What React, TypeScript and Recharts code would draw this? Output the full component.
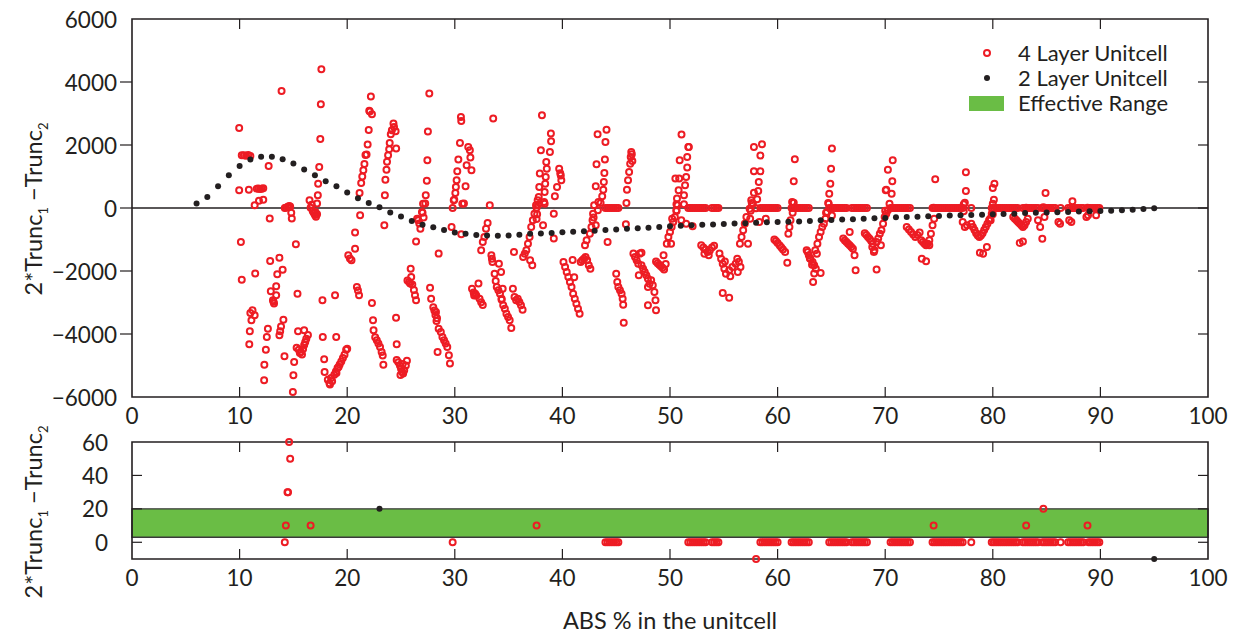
import React from "react";
import { ScatterChart, Scatter, XAxis, YAxis, ReferenceLine, ReferenceArea, Legend } from "recharts";

const INK = "#231f20";
const RED = "#ed1c24";
const GREEN = "#6abd45";
const FONT = "Lato, 'Open Sans', sans-serif";

// x = ABS % in the unitcell, y = 2*Trunc1 - Trunc2
const twoLayerAbs = [
  6, 7, 8, 9, 10, 11, 12, 13, 14, 15, 16, 17, 18, 19, 20, 21, 22, 23, 24, 25,
  26, 27, 28, 29, 30, 31, 32, 33, 34, 35, 36, 37, 38, 39, 40, 41, 42, 43, 44, 45,
  46, 47, 48, 49, 50, 51, 52, 53, 54, 55, 56, 57, 58, 59, 60, 61, 62, 63, 64, 65,
  66, 67, 68, 69, 70, 71, 72, 73, 74, 75, 76, 77, 78, 79, 80, 81, 82, 83, 84, 85,
  86, 87, 88, 89, 90, 91, 92, 93, 94, 95,
];
const twoLayerDiff = [
  140, 350, 690, 1040, 1330, 1540, 1630, 1630, 1550, 1410, 1220, 1040, 850, 690, 490, 310, 160, 20, -140, -270,
  -410, -530, -610, -700, -780, -820, -860, -870, -880, -870, -850, -820, -810, -790, -770, -750, -740, -720, -700, -680,
  -655, -645, -625, -600, -580, -560, -550, -530, -520, -505, -495, -485, -465, -455, -445, -435, -425, -412, -391, -380,
  -369, -359, -338, -327, -316, -295, -285, -274, -264, -253, -242, -232, -225, -211, -200, -189, -179, -158, -147, -140,
  -137, -126, -115, -105, -94, -84, -73, -55, -35, -10,
];

// 4 layer unitcell, points away from zero
const fourLayerSpread: [number, number][] = [
  [9.96, 2540], [10.2, 1673], [10.4, 1673], [10.6, 1660], [10.8, 1680], [11.0, 1650], [9.96, 561], [10.86, 582],
  [11.6, 615], [11.75, 620], [11.9, 600], [12.05, 615], [12.2, 625], [11.4, 90], [12.2, 265], [12.7, 1334],
  [12.8, -337], [13.9, 3715], [10.12, -1080], [10.2, -2275], [11.45, -2083], [11.8, 230],
  [11.0, -3332], [11.2, -3249], [11.4, -3408], [11.1, -3566], [10.95, -3915], [10.9, -4328],
  [12.84, -1683], [13.7, -1576], [13.5, -2105], [14.0, -1957], [13.4, -2487], [12.9, -2645], [13.1, -2930],
  [13.15, -2980], [13.2, -3030], [13.4, -2772], [14.07, -3545], [13.85, -3760], [13.77, -3915], [13.7, -4042],
  [12.63, -3830], [12.53, -4095], [12.44, -4497], [12.3, -4973], [12.28, -5471], [14.17, -4709], [15.07, -4889],
  [15.0, -5313], [14.95, -5842], [15.23, -1153], [15.38, -2719], [15.43, -3915], [16.0, -3883],
  [15.3, -4440], [15.5, -4500], [15.7, -4560], [15.9, -4480], [16.0, -4350], [16.1, -4250], [16.2, -4150],
  [16.35, -4030], [15.6, -4600], [15.8, -4650], [14.85, -337], [14.8, -150],
  [16.5, 244], [16.7, 100], [16.8, -100], [16.9, -160], [17.0, -220], [17.1, -280], [17.2, -200], [17.05, -130],
  [17.6, 4404], [17.55, 3292], [17.5, 2191], [17.4, 1302], [17.3, 773], [17.27, 403], [17.2, 140],
  [17.7, -2930], [18.87, -2772], [17.73, -4095], [18.98, -4095], [17.86, -4804], [17.9, -5207],
  [18.2, -5450], [18.35, -5560], [18.5, -5400], [18.8, -5290], [18.95, -5190], [19.1, -5080], [19.3, -4970],
  [19.45, -4870], [19.6, -4760], [19.75, -4660], [19.9, -4500], [18.6, -5500], [19.0, -5240], [19.2, -5050],
  [18.4, -5600], [20.0, -4465], [20.1, -1500], [20.25, -1600], [20.4, -1660], [20.73, -781], [20.73, -1290],
  [20.9, -2510], [21.0, -2620], [21.1, -2772], [21.2, -232],
  [21.15, 475], [21.3, 794], [21.4, 1000], [21.5, 1200], [21.6, 1400], [21.7, 1683], [21.8, 1700], [21.9, 2018],
  [22.0, 2480], [22.05, 3090], [22.2, 3540], [22.3, 2980], [22.1, 3060],
  [22.3, -3013], [22.4, -3566], [22.45, -3883], [22.6, -4100], [22.75, -4200], [22.9, -4300], [23.05, -4410],
  [23.2, -4570], [23.3, -4680], [23.36, -4973], [23.45, -550],
  [23.5, 403], [23.55, 900], [23.65, 1218], [23.7, 1472], [23.8, 1673], [23.9, 1864], [23.95, 2064], [24.05, 2340],
  [24.15, 2467], [24.3, 2680], [24.35, 2574], [24.5, 2435], [24.55, 1885],
  [24.54, -3482], [24.6, -4328], [24.6, -4825], [24.75, -4900], [24.9, -5000], [25.0, -5100], [25.1, -5200],
  [25.2, -5250], [25.3, -5150], [25.45, -5000], [25.55, -4850], [24.95, -5300], [25.15, -4950],
  [25.9, -1926], [25.95, -2188], [25.6, -2300], [25.75, -2350], [25.85, -2400], [26.05, -2430], [26.2, -2600],
  [26.3, -2772], [26.4, -2930], [26.4, -1060], [26.5, -340], [26.7, -496], [26.8, -655], [26.6, -391],
  [27.05, 138], [26.95, -126],
  [27.63, 3632], [27.5, 2425], [27.45, 1514], [27.4, 869], [27.3, 403], [27.25, 140], [27.0, -150], [27.1, -300],
  [27.7, -2528], [27.8, -2877], [28.0, -3150], [28.1, -3250], [28.2, -3400], [28.3, -3590], [28.25, -3300],
  [28.35, -3500], [28.5, -3830], [28.7, -3936], [28.85, -4095], [29.0, -4200], [29.15, -4305], [29.3, -4410],
  [29.45, -4675], [29.55, -4940], [28.4, -4570], [28.5, -1448], [29.9, 244], [29.7, -603],
  [30.6, -836], [30.7, 138],
  [30.57, 2889], [30.6, 2762], [30.48, 2064], [30.33, 1536], [30.23, 1165], [30.17, 879], [30.1, 667],
  [30.05, 476], [29.95, 265],
  [31.25, 1937], [31.4, 1831], [31.45, 1600], [31.55, 1197], [31.1, 1356], [31.0, 689], [30.85, 140],
  [31.6, -2560], [31.75, -2680], [31.9, -2720], [32.0, -2780], [32.3, -2880], [32.45, -2990], [32.6, -3080],
  [32.2, -2400], [31.8, -2780],
  [32.6, -1078], [32.45, -1343], [32.75, -920], [32.9, -655], [33.05, -475], [33.25, 86], [33.57, 2838],
  [33.4, -1503], [33.45, -1608], [33.5, -1714],
  [33.7, -2084], [33.8, -2317], [33.9, -2507], [34.05, -2613], [34.2, -2719], [34.35, -2877], [34.5, -3089],
  [34.65, -3195], [34.8, -3354], [34.95, -3460], [35.1, -3566], [35.25, -3809],
  [34.1, -1767], [34.3, -2032], [34.45, -2560], [34.35, -2910],
  [35.4, -2560], [35.55, -2826], [35.7, -2932], [35.85, -2877], [36.0, -2983], [36.15, -3089], [36.3, -3227],
  [35.5, -1400],
  [36.35, -1555], [36.5, -1450], [36.65, -1343], [36.8, -1131], [36.95, -920], [37.1, -602], [37.25, -391],
  [37.4, -179], [37.55, 90], [37.7, 244], [37.0, -1661], [37.2, -1820],
  [38.1, 2943], [38.93, 2362], [38.95, 2118], [38.84, 1778], [38.0, 1832], [37.9, 1092], [37.85, 667],
  [37.8, 350], [37.75, 100], [37.65, -200], [37.6, -350],
  [38.5, 1461], [38.55, 1250], [38.45, 984], [38.4, 773], [38.35, 508], [38.3, 190],
  [39.7, 1250], [39.85, 1030], [39.8, 1100], [39.9, 879], [39.5, 667], [39.3, 371], [39.2, -180],
  [38.2, -550], [38.35, 138], [39.2, -972],
  [40.1, -1714], [40.25, -1872], [40.4, -2031], [40.55, -2190], [40.7, -2348], [40.85, -2507], [41.0, -2719],
  [41.15, -2877], [41.3, -3036], [41.45, -3195], [41.6, -3354], [40.95, -1650], [41.1, -2200],
  [41.7, -1714], [41.85, -1660], [42.0, -1610], [42.15, -1555], [42.3, -1660], [42.45, -1820], [42.6, -1925],
  [42.1, -1184], [42.25, -1025], [42.55, -814], [42.7, -602], [42.8, -391], [42.85, -179], [42.95, 85],
  [43.1, -550], [43.3, -73], [43.35, 191],
  [43.27, 2340], [44.1, 2488], [44.0, 2096], [43.17, 1388], [43.95, 1536], [43.9, 1112], [43.85, 826],
  [43.8, 582], [43.7, 371], [43.55, 160], [43.1, 689], [42.9, -300],
  [44.2, -1078], [45.9, -518],
  [45.0, -2084], [45.1, -2348], [45.2, -2507], [45.35, -2613], [45.5, -2719], [45.6, -2877], [45.65, -3068],
  [45.7, -3640],
  [46.4, 1778], [46.45, 1705], [46.35, 1619], [46.3, 1408], [46.2, 1143], [46.1, 879], [46.0, 582], [45.95, 160],
  [46.5, 1493],
  [46.6, -1448], [46.75, -1555], [46.9, -1661], [47.05, -1767], [47.2, -1448], [47.35, -1420], [47.1, -2137],
  [47.35, -1820], [47.5, -1925], [47.65, -2031], [47.8, -2137], [47.95, -2243], [48.1, -2401], [48.25, -2296],
  [48.4, -2454], [48.55, -2666], [48.65, -2930], [48.7, -3248], [47.95, -3090], [47.95, -2507],
  [48.7, -1700], [48.85, -1750], [49.0, -1800], [49.15, -1850], [49.3, -1900], [49.45, -1950], [49.6, -1780],
  [49.4, -1500],
  [49.7, -1131], [49.85, -920], [50.0, -760], [50.15, -602], [50.3, -444], [50.45, -285], [50.6, -73],
  [50.7, 85], [50.1, -1131],
  [51.07, 2330], [51.7, 1937], [51.75, 1937], [51.6, 1619], [50.9, 1514], [51.6, 1282], [50.5, 933],
  [50.85, 933], [51.5, 984], [50.8, 562], [51.4, 720], [50.65, 298], [51.3, 403], [50.6, 117], [51.3, 117],
  [50.6, -95], [50.2, -340], [51.05, -390], [51.5, -497], [52.1, -580],
  [52.9, -1184], [53.1, -1250], [53.3, -1320], [53.5, -1400], [53.7, -1350], [53.9, -1250], [54.1, -1200],
  [53.2, -1450], [53.6, -1500],
  [54.6, -1448], [54.75, -1608], [54.9, -1767], [55.05, -1925], [55.2, -2084], [55.5, -1978], [55.8, -1872],
  [56.1, -1767], [56.25, -1608], [56.4, -1710], [56.55, -1872], [56.3, -2030], [55.6, -2168], [55.1, -1700],
  [54.9, -2698], [55.5, -2846],
  [56.5, -1131], [56.65, -920], [56.8, -708], [56.95, -497], [57.1, -285], [57.25, -1131], [57.4, -20],
  [57.55, 244], [57.7, 138],
  [57.8, 1937], [58.55, 2022], [58.4, 1663], [57.8, 1165], [58.4, 1165], [58.25, 826], [57.8, 488], [58.2, 540],
  [58.1, 276], [57.6, 160], [57.5, -85], [57.45, -340], [58.3, -444], [58.9, -338],
  [59.7, -1000], [59.85, -1050], [60.0, -1110], [60.2, -1190], [60.35, -1250], [60.5, -1320], [60.7, -1396],
  [60.9, -1735], [61.0, -814], [61.1, -602], [61.2, -391], [61.35, 191],
  [61.6, 1546], [61.5, 848], [61.5, 170], [61.4, -150],
  [62.7, -1343], [62.9, -1500], [63.05, -1608], [63.25, -1714], [63.4, -1820], [63.55, -1925], [63.65, -1450],
  [63.5, -1343], [63.3, -2348], [62.8, -1400], [63.0, -1600], [63.2, -1800], [63.4, -2080], [64.0, -2063],
  [63.7, -1131], [63.85, -920], [64.0, -760], [64.15, -602], [64.3, -497], [64.45, -338], [64.6, -126],
  [64.75, 138], [65.05, -240],
  [65.05, 1885], [64.97, 1250], [64.9, 773], [64.8, 456], [64.7, 160], [64.5, -150],
  [66.1, -972], [66.25, -1030], [66.4, -1080], [66.55, -1131], [66.7, -1180], [66.85, -1240], [67.0, -1290],
  [67.15, -1500], [66.7, -760], [67.25, -1978],
  [68.1, -800], [68.25, -860], [68.4, -920], [68.55, -980], [68.7, -1050], [68.85, -1131], [68.8, -1240],
  [68.95, -1400], [69.0, -1343], [69.2, -1956],
  [69.2, -1078], [69.35, -972], [69.5, -814], [69.65, -708], [69.8, -497], [69.95, -285], [70.1, -179],
  [70.25, -73], [70.4, 138], [69.6, -1184],
  [70.25, 1218], [70.1, 582], [70.7, 1514], [70.66, 848], [70.6, 456], [70.05, 562], [70.0, -85],
  [72.0, -602], [72.2, -680], [72.4, -760], [72.6, -840], [72.8, -920], [73.0, -860], [73.2, -780],
  [73.35, -1025], [73.5, -1078], [73.65, -1131], [73.8, -1184], [73.95, -1131], [74.1, -1025], [74.25, -814],
  [74.4, -550], [74.55, -338], [74.1, -1184], [73.4, -1608], [73.8, -1693],
  [74.65, 911],
  [77.5, 1133], [77.5, 540], [77.4, 170], [77.3, -100], [77.2, -444], [77.4, -602], [77.6, -550], [77.3, 117],
  [78.0, -497], [78.15, -600], [78.3, -700], [78.45, -800], [78.6, -870], [78.75, -920], [78.9, -870],
  [79.05, -800], [79.2, -700], [79.35, -600], [79.5, -500], [79.65, -391], [79.75, -338],
  [78.8, -1420], [79.1, -1450], [79.45, -1237], [79.8, -391], [79.9, -179], [80.0, 138],
  [80.15, 773], [80.0, 635], [80.1, 265], [80.0, -200],
  [81.9, -285], [82.05, -340], [82.2, -390], [82.35, -444], [82.5, -497], [82.65, -550], [82.8, -602],
  [82.95, -550], [83.1, -444], [83.25, -340], [82.5, -1110], [82.8, -1060],
  [84.2, -391], [84.4, -602], [84.6, -973], [84.8, -285], [84.9, 476],
  [86.1, -444], [86.25, -497], [87.1, -391], [87.3, -444], [87.4, 213],
  [88.7, -285], [88.85, -232], [89.6, -232],
];

// 4 layer unitcell, small values (readable in the lower panel)
const fourLayerSmall: [number, number][] = [
  [14.3, 10], [14.5, 30], [14.45, 30], [14.7, 50], [14.6, 60], [16.6, 10], [37.6, 10],
  [74.5, 10], [83.1, 10], [84.7, 20], [88.8, 10], [58.0, -10],
];

// 4 layer unitcell, points sitting exactly at 0
const fourLayerZeroAbs = [
  14.2, 29.8,
  44.0, 44.2, 44.4, 44.6, 44.8, 45.0, 45.2,
  51.7, 51.9, 52.1, 52.3, 52.5, 52.7, 52.9, 53.1, 53.3,
  53.9, 54.1, 54.3, 54.5,
  58.4, 58.6, 58.8, 59.0, 59.2, 59.4, 59.6, 59.8, 60.0,
  61.3, 61.5, 61.7, 61.9, 62.1, 62.3, 62.5, 62.7, 62.9,
  64.8, 65.0, 65.2, 65.4, 65.6, 65.8, 66.0, 66.2, 66.4,
  66.9, 67.1, 67.3, 67.5, 67.7, 67.9, 68.1, 68.3,
  70.5, 70.7, 70.9, 71.1, 71.3, 71.5, 71.7, 71.9, 72.1, 72.3,
  74.4, 74.6, 74.8, 75.0, 75.2, 75.4, 75.6, 75.8, 76.0, 76.2, 76.4, 76.6, 76.8, 77.0, 77.2,
  78.0,
  79.9, 80.1, 80.3, 80.5, 80.7, 80.9, 81.1, 81.3, 81.5, 81.7, 81.9, 82.1, 82.3,
  82.8, 83.0, 83.2, 83.4, 83.6, 83.8, 84.0, 84.2,
  84.6, 84.8, 85.0, 85.2, 85.4, 85.6, 85.8,
  86.3,
  87.0, 87.2, 87.4, 87.6, 87.8, 88.0, 88.2, 88.4,
  88.9, 89.1, 89.3, 89.5, 89.7, 89.9,
];

const xTicks = [0, 10, 20, 30, 40, 50, 60, 70, 80, 90, 100];
const topYTicks = [-6000, -4000, -2000, 0, 2000, 4000, 6000];
const botYTicks = [0, 20, 40, 60];
const effectiveRange = [3, 20];

const fourLayer = [
  ...fourLayerSpread,
  ...fourLayerSmall,
  ...fourLayerZeroAbs.map((x) => [x, 0] as [number, number]),
].map(([x, y]) => ({ x, y }));
const twoLayer = twoLayerAbs.map((x, i) => ({ x, y: twoLayerDiff[i] }));
const inLower = (p: { y: number }) => p.y >= -10 && p.y <= 60;

// layout
const W = 1242, H = 634;
const PL = 132, PR = 1208;
const TOP = { t: 19, b: 397 };
const BOT = { t: 442, b: 559 };
const fmt = (v: number) => (v < 0 ? `\u2212${Math.abs(v)}` : String(v));

// eslint-disable-next-line @typescript-eslint/no-explicit-any
const OpenCircle = (p: any) => <circle cx={p.cx} cy={p.cy} r={3} fill="none" stroke={RED} strokeWidth={2} />;
// eslint-disable-next-line @typescript-eslint/no-explicit-any
const Dot = (p: any) => <circle cx={p.cx} cy={p.cy} r={3} fill={INK} />;

function makeXTick(box: { t: number; b: number }, labelY: number) {
  // eslint-disable-next-line @typescript-eslint/no-explicit-any
  return (p: any) => {
    const v = p.payload.value;
    const edge = v === 0 || v === 100;
    return (
      <g>
        {!edge && <line x1={p.x} x2={p.x} y1={box.b} y2={box.b - 10} stroke={INK} strokeWidth={1.2} />}
        {!edge && <line x1={p.x} x2={p.x} y1={box.t} y2={box.t + 10} stroke={INK} strokeWidth={1.2} />}
        <text x={p.x} y={labelY} textAnchor="middle" dominantBaseline="central" fontSize={22.5} fill={INK} fontFamily={FONT}>
          {fmt(v)}
        </text>
      </g>
    );
  };
}

function makeYTick(edges: number[], labelRight: number, outward: boolean) {
  // eslint-disable-next-line @typescript-eslint/no-explicit-any
  return (p: any) => {
    const v = p.payload.value;
    const edge = edges.includes(v);
    return (
      <g>
        {!edge && (outward
          ? <line x1={PL - 12} x2={PL} y1={p.y} y2={p.y} stroke={INK} strokeWidth={1.2} />
          : <line x1={PL} x2={PL + 10} y1={p.y} y2={p.y} stroke={INK} strokeWidth={1.2} />)}
        {!edge && <line x1={PR - 10} x2={PR} y1={p.y} y2={p.y} stroke={INK} strokeWidth={1.2} />}
        <text x={labelRight} y={p.y} textAnchor="end" dominantBaseline="central" fontSize={22.5} fill={INK} fontFamily={FONT}>
          {fmt(v)}
        </text>
      </g>
    );
  };
}

const legendItems = [
  { label: "4 Layer Unitcell", kind: "circle" },
  { label: "2 Layer Unitcell", kind: "dot" },
  { label: "Effective Range", kind: "band" },
];

function LegendBox() {
  return (
    <div style={{ fontFamily: FONT, fontSize: 22, color: INK }}>
      {legendItems.map((it) => (
        <div key={it.label} style={{ display: "flex", alignItems: "center", height: 25 }}>
          <svg width={50} height={24} style={{ flex: "none" }}>
            {it.kind === "circle" && <circle cx={27} cy={12} r={3} fill="none" stroke={RED} strokeWidth={2} />}
            {it.kind === "dot" && <circle cx={27} cy={12} r={3} fill={INK} />}
            {it.kind === "band" && <rect x={9} y={5} width={35} height={15} fill={GREEN} />}
          </svg>
          <span style={{ marginLeft: 8, whiteSpace: "nowrap", lineHeight: "22px" }}>{it.label}</span>
        </div>
      ))}
    </div>
  );
}

const yLabel = (
  <span>
    2*Trunc<sub style={{ fontSize: 13 }}>1</sub>&nbsp;{"\u2212"}Trunc<sub style={{ fontSize: 13 }}>2</sub>
  </span>
);

const abs: React.CSSProperties = { position: "absolute", left: 0, top: 0 };
const rotLabel = (cy: number): React.CSSProperties => ({
  position: "absolute", left: 35, top: cy, transform: "translate(-50%, -50%) rotate(-90deg)",
  whiteSpace: "nowrap", fontFamily: FONT, fontSize: 23.5, color: INK,
});

export default function App() {
  return (
    <div style={{ position: "absolute", left: 0, top: 0, width: W, height: H, background: "#fff" }}>
      <div style={abs}>
        <ScatterChart width={W} height={H} margin={{ top: TOP.t, right: W - PR, bottom: H - TOP.b - 30, left: PL - 60 }}>
          <XAxis dataKey="x" type="number" domain={[0, 100]} ticks={xTicks} interval={0} height={30}
            axisLine={false} tickLine={false} tick={makeXTick(TOP, 415)} />
          <YAxis dataKey="y" type="number" domain={[-6000, 6000]} ticks={topYTicks} interval={0} width={60}
            axisLine={false} tickLine={false} tick={makeYTick([-6000, 6000], 117, true)} />
          <ReferenceLine y={0} stroke={INK} strokeWidth={1.6} />
          <Scatter data={fourLayer} shape={OpenCircle} isAnimationActive={false} />
          <Scatter data={twoLayer} shape={Dot} isAnimationActive={false} />
          <ReferenceArea x1={0} x2={100} y1={-6000} y2={6000} fill="none" stroke={INK} strokeWidth={1.6} />
          <Legend layout="vertical" align="center" verticalAlign="middle" content={() => <LegendBox />}
            wrapperStyle={{ position: "absolute", left: 960, top: 40, width: 270 }} />
        </ScatterChart>
      </div>
      <div style={abs}>
        <ScatterChart width={W} height={H} margin={{ top: BOT.t, right: W - PR, bottom: H - BOT.b - 30, left: PL - 60 }}>
          <XAxis dataKey="x" type="number" domain={[0, 100]} ticks={xTicks} interval={0} height={30}
            axisLine={false} tickLine={false} tick={makeXTick(BOT, 577)} />
          <YAxis dataKey="y" type="number" domain={[-10, 60]} ticks={botYTicks} interval={0} width={60}
            axisLine={false} tickLine={false} tick={makeYTick([60], 108, false)} />
          <ReferenceArea x1={0} x2={100} y1={effectiveRange[0]} y2={effectiveRange[1]} fill={GREEN} fillOpacity={1}
            stroke="#3a3a3a" strokeWidth={1.4} />
          <Scatter data={fourLayer.filter(inLower)} shape={OpenCircle} isAnimationActive={false} />
          <Scatter data={twoLayer.filter(inLower)} shape={Dot} isAnimationActive={false} />
          <ReferenceArea x1={0} x2={100} y1={-10} y2={60} fill="none" stroke={INK} strokeWidth={1.6} />
        </ScatterChart>
      </div>
      <div style={rotLabel(209)}>{yLabel}</div>
      <div style={rotLabel(512)}>{yLabel}</div>
      <div style={{ position: "absolute", left: 670, top: 620, transform: "translate(-50%, -50%)", fontFamily: FONT, fontSize: 23.5, color: INK, whiteSpace: "nowrap" }}>
        ABS % in the unitcell
      </div>
    </div>
  );
}
